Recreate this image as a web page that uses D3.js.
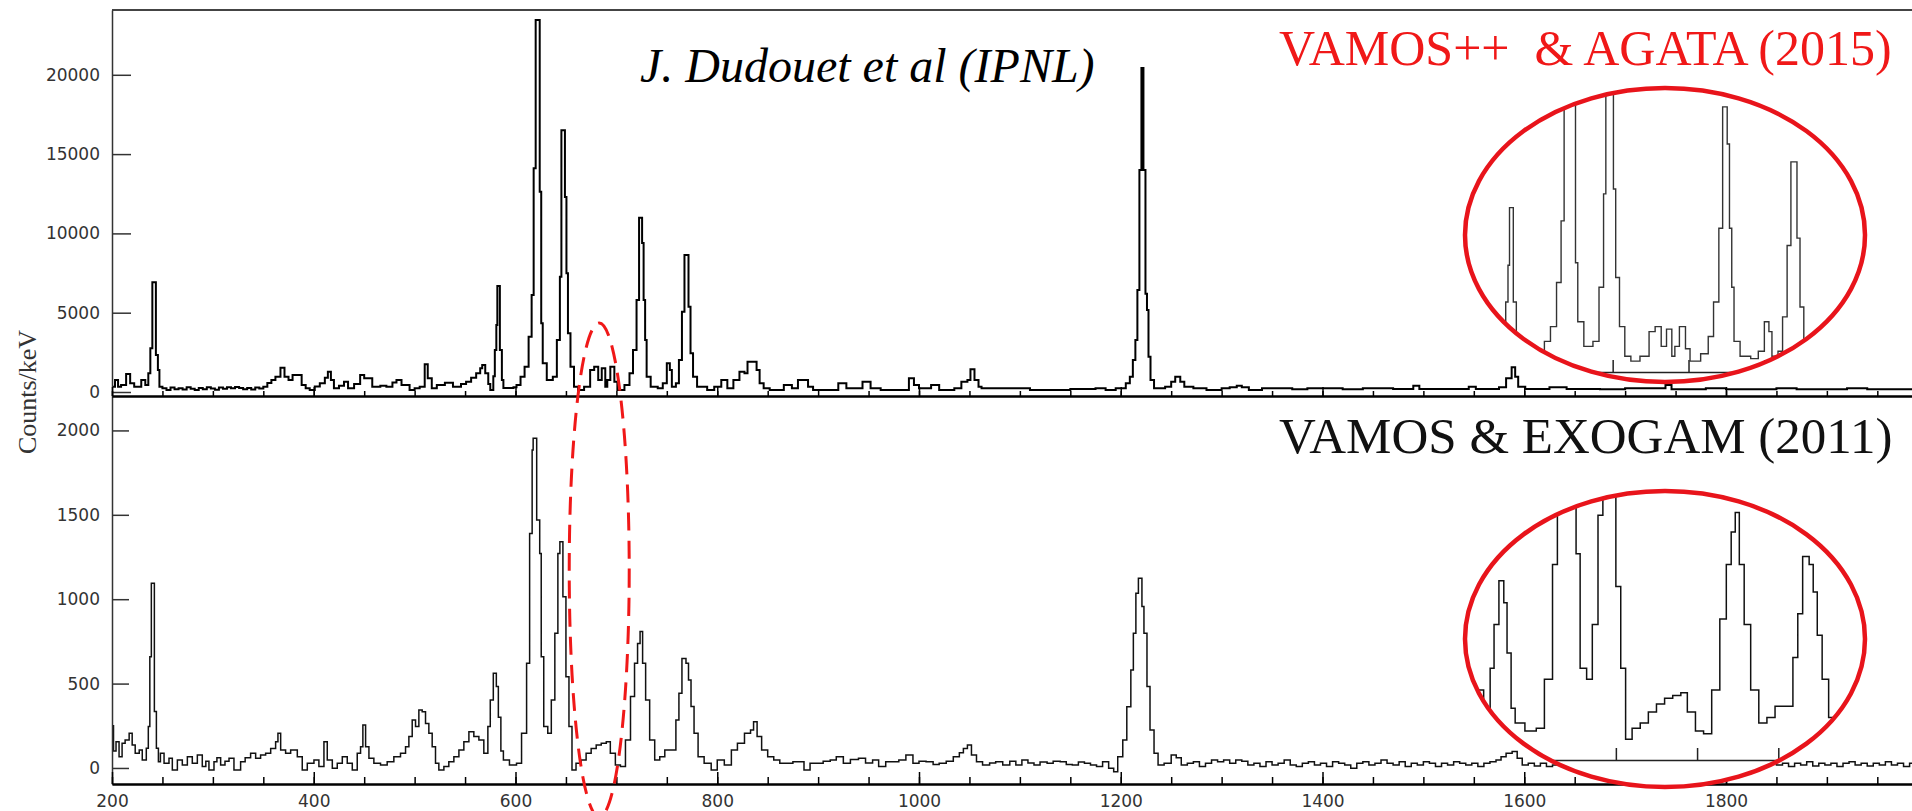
<!DOCTYPE html>
<html>
<head>
<meta charset="utf-8">
<script src="https://cdn.jsdelivr.net/npm/d3@7/dist/d3.min.js"></script>
<style>
  body { margin: 0; background: #fff; }
  svg { display: block; }
  .tick text { font-family: "DejaVu Sans", Verdana, sans-serif; font-size: 17px; fill: #333; }
</style>
</head>
<body>
<div id="chart"></div>
<script>
// top spectrum (VAMOS++ & AGATA), [keV, counts/keV], step histogram
var agataSpectrum = [
  [200,335],[203,756],[206,335],[209,441],[214,1135],[218,546],[222,335],[229,756],[233,441],[236,1177],
  [238,2755],[240,6916],[243.5,2335],[245.5,1387],[247,335],[250,230],[254,130],[258,280],[262,180],[266,240],
  [270,150],[274,300],[278,200],[282,130],[286,260],[290,170],[294,300],[298,220],[302,140],[306,280],
  [310,200],[314,300],[318,230],[322,310],[326,250],[330,180],[334,260],[338,150],[342,280],[346,220],
  [350,330],[354,560],[358,756],[362,966],[367,1534],[371,966],[375,756],[379,1072],[388,441],[392,230],
  [396,126],[401,340],[406,546],[411,900],[414,1282],[417,756],[420,231],[425,400],[430,651],[434,231],
  [440,500],[446,1072],[450,861],[458,335],[466,400],[472,335],[478,600],[482,756],[487,441],[495,126],
  [500,240],[505,335],[510,1745],[513,861],[517,231],[522,441],[530,588],[538,335],[546,500],[551,651],
  [556,900],[561,1177],[565,1500],[567,1703],[570,1177],[573,500],[575,126],[578,1000],[579.5,2648],[581,4224],
  [582,6683],[584.5,2648],[586.5,756],[588,252],[598,300],[601,441],[605,967],[609,1597],[613,3487],[616,6116],
  [618,14100],[620,23455],[624,12630],[625.5,4330],[627,1807],[631,756],[637,967],[641,3278],[644,7270],[645.5,16500],
  [649,12300],[650.5,7480],[652,3700],[654.5,1597],[658,336],[662,126],[668,336],[674,1387],[678,1597],[682,756],
  [685.5,1492],[689,336],[691,756],[694,1597],[698,651],[701,126],[708,441],[713,1177],[716.5,2648],[720,5800],
  [722.5,10990],[725.5,9400],[727,5800],[728.5,3278],[730,967],[734,336],[741,231],[746,546],[750,1807],[753,1387],
  [755,336],[759,546],[762,2017],[765,5063],[767.5,8640],[771.5,5380],[773.5,2438],[776,967],[780,336],[790,126],
  [797,336],[804,756],[810,231],[816,756],[822,1282],[827,1177],[830,1912],[839,1387],[842,546],[846,231],
  [852,126],[866,441],[874,230],[880,756],[890,336],[895,126],[920,546],[928,231],[944,651],[952,231],
  [962,126],[990,861],[995,441],[1000,231],[1012,441],[1020,126],[1035,231],[1042,651],[1048,756],[1051,1429],
  [1055,756],[1059,336],[1062,231],[1080,231],[1110,126],[1150,182],[1175,231],[1185,126],[1195,231],[1205,546],
  [1209,967],[1212,2017],[1214.5,3278],[1216.5,6431],[1218.5,14000],[1220.5,20430],[1222.5,14000],[1224.5,6200],[1226,5170],[1227.5,2227],
  [1229.5,756],[1233,231],[1244,336],[1250,651],[1254,967],[1259,651],[1263,336],[1272,231],[1285,126],[1300,231],
  [1308,300],[1315,400],[1320,300],[1327,126],[1340,231],[1370,180],[1385,231],[1420,180],[1440,231],[1470,182],
  [1490,400],[1496,182],[1545,336],[1552,182],[1575,300],[1582,861],[1587.5,1555],[1591,967],[1594,336],[1601,182],
  [1625,300],[1642,182],[1675,170],[1700,230],[1740,441],[1746,170],[1780,230],[1800,170],[1850,230],[1870,170],
  [1920,230],[1940,170],[2000,170]
];

// bottom spectrum (VAMOS & EXOGAM), [keV, counts/keV]
var exogamSpectrum = [
  [200,250],[201.5,100],[204,156],[207,67],[210,146],[213,166],[217,205],[220,136],[223,87],[227,107],
  [230,47],[234,117],[236,245],[237.5,659],[239,1094],[242,334],[244,117],[246,37],[248,87],[251.6,28],
  [256.5,57],[259.8,-12],[264.8,47],[269.7,18],[274.7,67],[279.6,28],[284.6,77],[289.5,8],[293,40],[296.1,-12],
  [301.1,37],[304,60],[307.7,18],[312,40],[316,57],[320.9,-12],[327.5,37],[332,60],[337.4,87],[342.4,57],
  [347.3,77],[352.3,87],[357.3,116],[362.2,156],[364.5,205],[367.2,107],[372.1,87],[377.1,107],[383.7,67],[388.6,-12],
  [393.6,28],[400.2,47],[405.1,8],[410.1,156],[413.4,47],[418.4,-2],[423.3,28],[428.3,67],[433.2,28],[438.2,-12],
  [443.1,87],[446.4,126],[448.7,255],[451.4,126],[454.7,57],[459.6,28],[466.2,18],[472.8,37],[479.4,67],[486,87],
  [491,126],[494.3,186],[497.6,284],[500.9,245],[504.2,343],[507.5,333],[510.8,264],[514.1,205],[517.4,126],[520.7,28],
  [524,-12],[529,8],[533.9,37],[538.9,67],[543.9,107],[548.8,156],[553.8,215],[558.7,186],[563.7,166],[568.6,87],
  [572.6,245],[575,403],[578,561],[581,482],[583,300],[585.5,100],[588,47],[594,18],[601,28],[606,205],
  [611,620],[614,1390],[616.5,1884],[617.5,1953],[621,1469],[624,1271],[625.5,659],[628,245],[632,205],[635.5,403],
  [639,798],[642,1271],[644,1341],[647,1015],[650,541],[653,245],[656,-12],[660,28],[665,47],[670,87],
  [675,116],[680,136],[685,146],[690,156],[694,87],[699,18],[704,8],[709,166],[714,423],[718,620],
  [721,738],[723.5,808],[726,620],[729,403],[733,166],[738,47],[743,67],[748,107],[755,107],[759,284],
  [762,442],[765,649],[769,620],[771.5,521],[774,364],[777,205],[781,67],[787,28],[794,-12],[800,47],
  [807,18],[814,107],[820,146],[827,205],[833,225],[836,274],[839.5,186],[844,107],[850,67],[856,47],
  [862,28],[868,28],[875,37],[882,37],[886,-12],[892,28],[898,28],[905,40],[912,47],[918,67],
  [925,28],[932,50],[940,57],[947,30],[954,47],[960,8],[967,37],[974,37],[980,47],[987,77],
  [994,28],[1000,40],[1007,37],[1014,20],[1020,28],[1027,40],[1034,67],[1040,90],[1044,116],[1048,136],
  [1052,77],[1057,37],[1063,18],[1070,30],[1076,37],[1083,18],[1090,40],[1096,18],[1102,47],[1108,30],
  [1114,18],[1120,35],[1127,28],[1133,40],[1140,37],[1146,20],[1152,18],[1158,35],[1164,28],[1170,18],
  [1176,8],[1182,37],[1188,-2],[1193,-22],[1197,67],[1202,166],[1206,363],[1210,580],[1212.5,798],[1215,1035],
  [1217.5,1124],[1221,956],[1223,798],[1226,482],[1229,225],[1233,87],[1237,18],[1243,28],[1250,77],[1255,60],
  [1260,18],[1266,28],[1272,37],[1278,8],[1284,28],[1290,47],[1296,37],[1302,47],[1308,28],[1314,47],
  [1320,40],[1326,18],[1332,28],[1338,8],[1344,37],[1350,18],[1356,28],[1362,47],[1368,18],[1374,8],
  [1380,28],[1386,37],[1392,18],[1398,28],[1404,8],[1410,37],[1416,28],[1422,18],[1428,-2],[1434,28],
  [1440,37],[1446,18],[1452,28],[1458,47],[1464,28],[1470,18],[1476,37],[1482,8],[1488,28],[1494,18],
  [1500,37],[1506,28],[1512,8],[1518,28],[1524,18],[1530,37],[1536,28],[1542,18],[1548,28],[1554,8],
  [1560,28],[1566,37],[1572,47],[1577,67],[1582,87],[1588,97],[1593,57],[1598,18],[1604,28],[1610,12],
  [1616,28],[1622,8],[1628,18],[1634,28],[1640,8],[1646,18],[1652,28],[1658,12],[1664,28],[1670,18],
  [1676,8],[1682,28],[1688,18],[1694,28],[1700,12],[1706,28],[1712,18],[1718,37],[1724,8],[1730,28],
  [1736,18],[1742,28],[1748,37],[1754,18],[1760,28],[1766,8],[1772,28],[1778,18],[1784,37],[1790,28],
  [1796,18],[1802,28],[1808,8],[1814,37],[1820,18],[1826,28],[1832,12],[1838,28],[1844,37],[1850,18],
  [1856,28],[1862,8],[1868,28],[1874,18],[1880,37],[1886,12],[1892,28],[1898,18],[1904,28],[1910,8],
  [1916,28],[1922,37],[1928,18],[1934,28],[1940,12],[1946,28],[1952,18],[1958,37],[1964,18],[1970,28],
  [1976,8],[1982,28],[1988,18],[1994,28],[2000,18]
];

var topYTicks = [0, 5000, 10000, 15000, 20000];
var bottomYTicks = [0, 500, 1000, 1500, 2000];
var xTicks = [200, 400, 600, 800, 1000, 1200, 1400, 1600, 1800];
var xMinorTicks = d3.range(200, 2001, 50);
var insetTicks = [650, 700, 750];

var titleTop = "VAMOS++  & AGATA (2015)";
var titleBottom = "VAMOS & EXOGAM (2011)";
var credit = "J. Dudouet et al (IPNL)";
var yLabel = "Counts/keV";

var width = 1912, height = 811;
var fmt = d3.format("d");

var svg = d3.select("#chart")
  .append("svg")
  .attr("width", width)
  .attr("height", height);

svg.append("rect").attr("width", width).attr("height", height).attr("fill", "#fff");

// scales
var x = d3.scaleLinear().domain([200, 2000]).range([112, 1927.75]);
var yTop = d3.scaleLinear().domain([-252, 24085]).range([396, 10]);
var yBot = d3.scaleLinear().domain([-95, 2204]).range([784, 396]);

// zoomed insets (drawn inside the red ellipses)
var xInsetTop = d3.scaleLinear().domain([552, 817]).range([1464, 1866]);
var yInsetTop = d3.scaleLinear().domain([-340, 10000]).range([372, 130]);
var xInsetBot = d3.scaleLinear().domain([556.5, 804]).range([1464, 1866]);
var yInsetBot = d3.scaleLinear().domain([-87, 1000]).range([760, 459.5]);

var defs = svg.append("defs");
defs.append("clipPath").attr("id", "clipTop")
  .append("rect").attr("x", 112).attr("y", 10).attr("width", width - 112).attr("height", 386);
defs.append("clipPath").attr("id", "clipBot")
  .append("rect").attr("x", 112).attr("y", 396).attr("width", width - 112).attr("height", 388);
defs.append("clipPath").attr("id", "clipInsetTop")
  .append("ellipse").attr("cx", 1665).attr("cy", 235).attr("rx", 200).attr("ry", 147);
defs.append("clipPath").attr("id", "clipInsetBot")
  .append("ellipse").attr("cx", 1665).attr("cy", 639).attr("rx", 200).attr("ry", 148);

function stepLine(xs, ys) {
  return d3.line()
    .x(function(d) { return xs(d[0]); })
    .y(function(d) { return ys(d[1]); })
    .curve(d3.curveStepAfter);
}

function styleAxis(g, col, w) {
  g.select(".domain").attr("stroke", col).attr("stroke-width", w);
  g.selectAll(".tick line").attr("stroke", col).attr("stroke-width", 1.5);
}

// spectra
svg.append("path")
  .datum(agataSpectrum)
  .attr("clip-path", "url(#clipTop)")
  .attr("fill", "none")
  .attr("stroke", "#000")
  .attr("stroke-width", 2)
  .attr("d", stepLine(x, yTop));

svg.append("path")
  .datum(exogamSpectrum)
  .attr("clip-path", "url(#clipBot)")
  .attr("fill", "none")
  .attr("stroke", "#111")
  .attr("stroke-width", 1.5)
  .attr("d", stepLine(x, yBot));

// top border
svg.append("line")
  .attr("x1", 112).attr("x2", width).attr("y1", 10).attr("y2", 10)
  .attr("stroke", "#444").attr("stroke-width", 2);

// y axes
var gyTop = svg.append("g")
  .attr("transform", "translate(112,0)")
  .call(d3.axisLeft(yTop).tickValues(topYTicks).tickFormat(fmt).tickSizeInner(-19).tickSizeOuter(0).tickPadding(12));
styleAxis(gyTop, "#333", 1.5);

var gyBot = svg.append("g")
  .attr("transform", "translate(112,0)")
  .call(d3.axisLeft(yBot).tickValues(bottomYTicks).tickFormat(fmt).tickSizeInner(-17).tickSizeOuter(0).tickPadding(12));
styleAxis(gyBot, "#333", 1.5);

// x axis of the top panel (ticks only)
var gxTopMinor = svg.append("g")
  .attr("transform", "translate(0,396)")
  .call(d3.axisBottom(x).tickValues(xMinorTicks).tickSizeInner(-5).tickSizeOuter(0).tickFormat(""));
styleAxis(gxTopMinor, "#000", 2);
var gxTopMajor = svg.append("g")
  .attr("transform", "translate(0,396)")
  .call(d3.axisBottom(x).tickValues(xTicks).tickSizeInner(-9).tickSizeOuter(0).tickFormat(""));
styleAxis(gxTopMajor, "#000", 2);

// x axis of the bottom panel
var gxBotMinor = svg.append("g")
  .attr("transform", "translate(0,784)")
  .call(d3.axisBottom(x).tickValues(xMinorTicks).tickSizeInner(-7).tickSizeOuter(0).tickFormat(""));
styleAxis(gxBotMinor, "#000", 2);
var gxBot = svg.append("g")
  .attr("transform", "translate(0,784)")
  .call(d3.axisBottom(x).tickValues(xTicks).tickFormat(fmt).tickSizeInner(-12).tickSizeOuter(0).tickPadding(11));
styleAxis(gxBot, "#000", 2);

// y label
svg.append("text")
  .attr("transform", "translate(36,392) rotate(-90)")
  .attr("text-anchor", "middle")
  .style("font-family", "'Liberation Serif', 'Times New Roman', serif")
  .style("font-size", "26px")
  .attr("fill", "#333")
  .text(yLabel);

// insets
function drawInset(clipId, cx, cy, ry, data, xs, ys, col, sw) {
  var g = svg.append("g");
  g.append("ellipse").attr("cx", cx).attr("cy", cy).attr("rx", 200).attr("ry", ry).attr("fill", "#fff");
  var gi = g.append("g").attr("clip-path", "url(#" + clipId + ")");
  var ax = gi.append("g")
    .attr("transform", "translate(0," + ys.range()[0] + ")")
    .call(d3.axisBottom(xs).tickValues(insetTicks).tickSizeInner(-12).tickSizeOuter(0).tickFormat(""));
  styleAxis(ax, "#222", 1.5);
  gi.append("path")
    .datum(data)
    .attr("fill", "none")
    .attr("stroke", col)
    .attr("stroke-width", sw)
    .attr("d", stepLine(xs, ys));
  g.append("ellipse").attr("cx", cx).attr("cy", cy).attr("rx", 200).attr("ry", ry)
    .attr("fill", "none").attr("stroke", "#e8141b").attr("stroke-width", 4.5);
}
drawInset("clipInsetTop", 1665, 235, 147, agataSpectrum, xInsetTop, yInsetTop, "#333", 1.4);
drawInset("clipInsetBot", 1665, 639, 148, exogamSpectrum, xInsetBot, yInsetBot, "#111", 1.5);

// dashed ellipse round the 680-700 keV triplet
svg.append("ellipse")
  .attr("cx", x(683)).attr("cy", 570).attr("rx", 30).attr("ry", 247)
  .attr("fill", "none")
  .attr("stroke", "#f01818")
  .attr("stroke-width", 3)
  .attr("stroke-dasharray", "18,10");

// texts
svg.append("text")
  .attr("x", 640).attr("y", 82)
  .style("font-family", "'Liberation Serif', 'Times New Roman', serif")
  .style("font-style", "italic")
  .style("font-size", "48px")
  .attr("fill", "#000")
  .text(credit);

svg.append("text")
  .attr("x", 1279).attr("y", 65)
  .style("font-family", "'Liberation Serif', 'Times New Roman', serif")
  .style("font-size", "50px")
  .style("white-space", "pre")
  .attr("fill", "#f01818")
  .text(titleTop);

svg.append("text")
  .attr("x", 1279).attr("y", 453)
  .style("font-family", "'Liberation Serif', 'Times New Roman', serif")
  .style("font-size", "51px")
  .attr("fill", "#111")
  .text(titleBottom);
</script>
</body>
</html>
